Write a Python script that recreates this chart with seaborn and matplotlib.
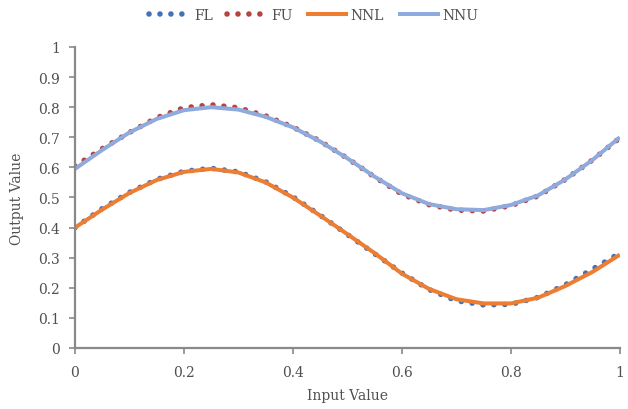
import numpy as np
import pandas as pd
import seaborn as sns
import matplotlib
matplotlib.use("Agg")
import matplotlib.pyplot as plt

# values
input_value = [0.00, 0.05, 0.10, 0.15, 0.20, 0.25, 0.30, 0.35, 0.40, 0.45, 0.50,
               0.55, 0.60, 0.65, 0.70, 0.75, 0.80, 0.85, 0.90, 0.95, 1.00]
fl = [0.400, 0.463, 0.517, 0.560, 0.587, 0.597, 0.585, 0.552, 0.502, 0.441, 0.377,
      0.313, 0.249, 0.194, 0.157, 0.143, 0.145, 0.168, 0.210, 0.262, 0.315]
fu = [0.604, 0.662, 0.716, 0.765, 0.798, 0.808, 0.798, 0.771, 0.734, 0.687, 0.630,
      0.568, 0.511, 0.476, 0.458, 0.455, 0.473, 0.505, 0.560, 0.625, 0.698]
nnl = [0.400, 0.460, 0.515, 0.558, 0.585, 0.595, 0.583, 0.550, 0.500, 0.440, 0.378,
       0.315, 0.247, 0.196, 0.162, 0.148, 0.148, 0.167, 0.206, 0.253, 0.310]
nnu = [0.595, 0.658, 0.716, 0.761, 0.790, 0.800, 0.792, 0.768, 0.733, 0.686, 0.630,
       0.569, 0.514, 0.478, 0.461, 0.458, 0.475, 0.507, 0.560, 0.625, 0.700]

colors = {"FL": "#4372b8", "FU": "#b8423f", "NNL": "#ed7d31", "NNU": "#8faadc"}

x_ticks = [0, 0.2, 0.4, 0.6, 0.8, 1.0]
x_tick_labels = ["0", "0.2", "0.4", "0.6", "0.8", "1"]
y_ticks = [0, 0.1, 0.2, 0.3, 0.4, 0.5, 0.6, 0.7, 0.8, 0.9, 1.0]
y_tick_labels = ["0", "0.1", "0.2", "0.3", "0.4", "0.5", "0.6", "0.7", "0.8", "0.9", "1"]

df = pd.DataFrame({"x": input_value, "FL": fl, "FU": fu, "NNL": nnl, "NNU": nnu})

sns.set_style("ticks")
plt.rcParams["font.family"] = ["DejaVu Serif"]
axis_grey = "#898989"
text_col = "#505050"

fig = plt.figure(figsize=(6.28, 4.10), dpi=100)
ax = fig.add_axes([0.1194, 0.1488, 0.8676, 0.7342])

# dotted series first, solid network curves drawn on top
for name in ["FL", "FU"]:
    sns.lineplot(data=df, x="x", y=name, ax=ax, color=colors[name], label=name,
                 linewidth=4.0, linestyle=(0, (0.01, 1.96)),
                 dash_capstyle="round", errorbar=None)
for name in ["NNL", "NNU"]:
    sns.lineplot(data=df, x="x", y=name, ax=ax, color=colors[name], label=name,
                 linewidth=2.9, errorbar=None, solid_capstyle="butt")

ax.set_xlim(0, 1)
ax.set_ylim(0, 1)
ax.set_xticks(x_ticks)
ax.set_xticklabels(x_tick_labels)
ax.set_yticks(y_ticks)
ax.set_yticklabels(y_tick_labels)
ax.tick_params(axis="both", direction="out", length=4, width=1.2, color=axis_grey,
               labelsize=10, labelcolor=text_col)
ax.tick_params(axis="x", pad=8)
ax.tick_params(axis="y", pad=7)

sns.despine(ax=ax)
for side in ["left", "bottom"]:
    ax.spines[side].set_color(axis_grey)
    ax.spines[side].set_linewidth(1.6)

ax.set_xlabel("Input Value", fontsize=10, color=text_col, labelpad=7)
ax.set_ylabel("Output Value", fontsize=10, color=text_col, labelpad=10)

handles, labels = ax.get_legend_handles_labels()
ax.legend_.remove()
fig.legend(handles, labels, loc="center", bbox_to_anchor=(0.5, 0.962), ncol=4,
           frameon=False, fontsize=10, handlelength=3.0, handletextpad=0.2,
           columnspacing=1.0, labelcolor=text_col)

fig.savefig("out.png", dpi=100)
